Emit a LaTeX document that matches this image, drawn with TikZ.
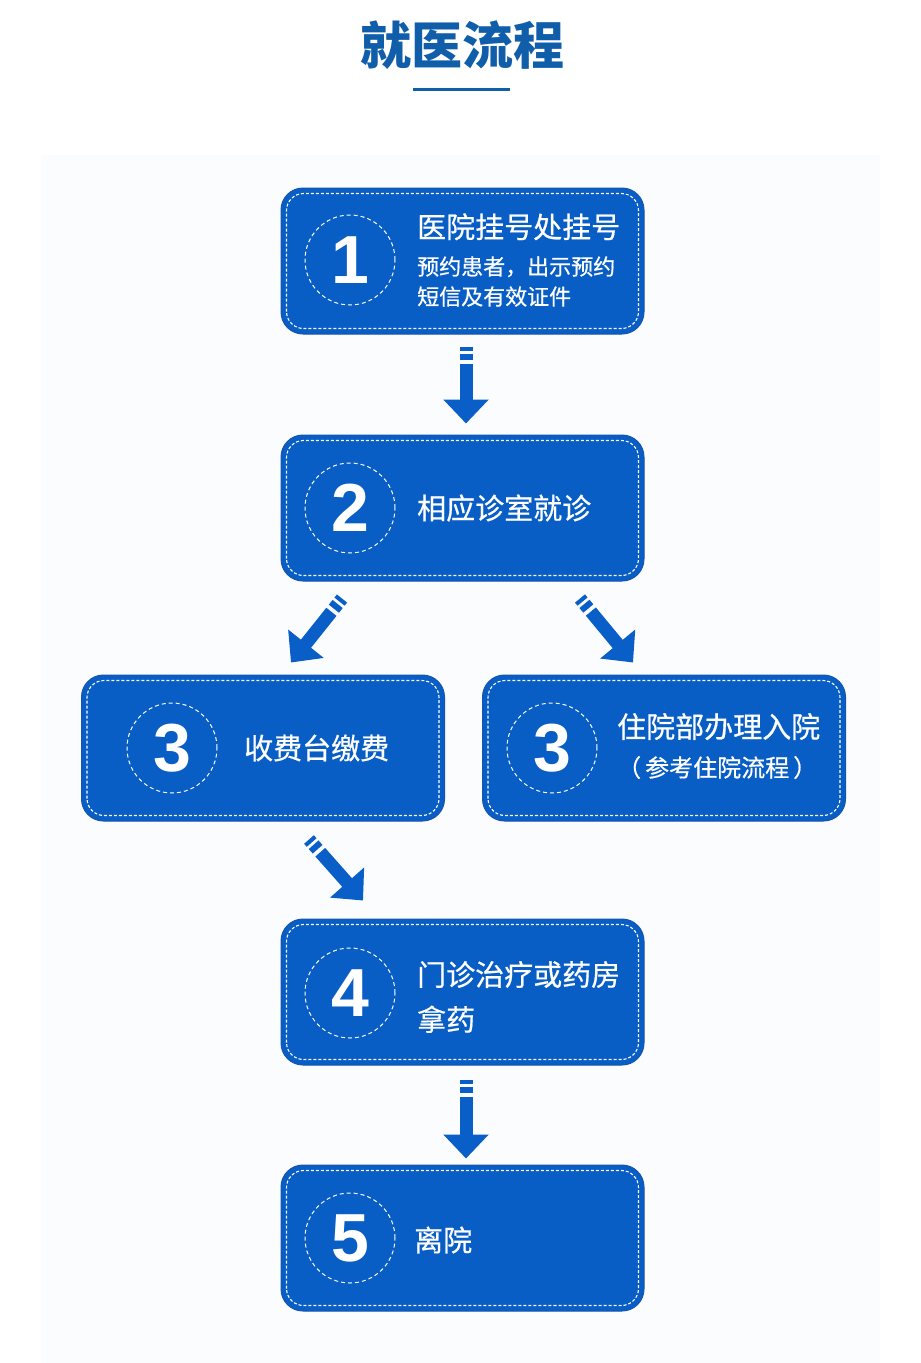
\documentclass[tikz,border=0pt]{standalone}
\usepackage{fontspec}
\usepackage{xcolor}
\usepackage{tikz}
\usetikzlibrary{arrows.meta}
\usetikzlibrary{positioning}
\newfontfamily\cjk{Noto Sans CJK SC}
\newfontfamily\cjkmed[FakeBold=0.6]{Noto Sans CJK SC}
\newfontfamily\digits{Liberation Sans}
\definecolor{titleblue}{RGB}{16,94,170}
\definecolor{boxblue}{RGB}{8,94,196}
\definecolor{edgeblue}{RGB}{22,84,176}
\definecolor{arrowblue}{RGB}{10,94,200}
\definecolor{panel}{RGB}{251,252,253}

\begin{document}
\begin{tikzpicture}[x=1pt,y=-1pt]
        \tikzstyle{stepbox}=[fill=boxblue,draw=edgeblue,line width=1pt,rounded corners=22pt,
          minimum width=363pt,minimum height=146pt,inner sep=0pt]
        \tikzstyle{stitch}=[draw=white,line width=1.1pt,rounded corners=17pt,dash pattern=on 3pt off 2pt]
        \tikzstyle{ring}=[circle,draw=white,line width=1pt,dash pattern=on 4pt off 3pt,
          minimum size=90pt,inner sep=0pt,text=white,font=\digits\bfseries\fontsize{68}{68}\selectfont]
        \tikzstyle{steptext}=[anchor=west,align=left,inner sep=0pt,text=white,
          font=\cjkmed\fontsize{22}{30}\selectfont]
        \tikzstyle{flow}=[draw=arrowblue,line width=13pt,
          dash pattern=on 4pt off 3pt on 6pt off 4pt on 400pt,-{Triangle[length=24pt,width=44pt]}]

        \useasboundingbox (0,0) rectangle (921,1363);
        \fill[white] (0,0) rectangle (921,1363);
        \fill[panel] (41,155) rectangle (880,1363);

        % title
        \node[font=\cjk\bfseries\fontsize{51}{51}\selectfont,text=titleblue] (title) at (462,45) {就医流程};
        \draw[titleblue,line width=3pt] (413,89) -- (510,89);

        % steps
        \node[stepbox] (b1) at (462.5,261) {};
        \node[stepbox] (b2) at (462.5,508) {};
        \node[stepbox] (b3l) at (263,748) {};
        \node[stepbox] (b3r) at (664,748) {};
        \node[stepbox] (b4) at (462.5,992) {};
        \node[stepbox] (b5) at (462.5,1238) {};
        \foreach \b in {b1,b2,b3l,b3r,b4,b5}
          \draw[stitch] ([shift={(6pt,6pt)}]\b.south west) rectangle ([shift={(-6pt,-6pt)}]\b.north east);

        \node[ring] (n1) at (350,260) {1};
        \node[ring] (n2) at (350,508) {2};
        \node[ring] (n3l) at (172,748) {3};
        \node[ring] (n3r) at (552,748) {3};
        \node[ring] (n4) at (350,993) {4};
        \node[ring] (n5) at (350,1238) {5};

        \node[steptext] (t1) at (417,260) {{\fontsize{29}{36}\selectfont 医院挂号处挂号}\\[7pt]预约患者，出示预约\\短信及有效证件};
        \node[steptext,font=\cjkmed\fontsize{29}{36}\selectfont] (t2) at (417,508) {相应诊室就诊};
        \node[steptext,font=\cjkmed\fontsize{29}{36}\selectfont] (t3l) at (244,748) {收费台缴费};
        \node[steptext] (t3r) at (617,746) {{\fontsize{29}{36}\selectfont 住院部办理入院}\\[9pt]{\fontsize{24}{30}\selectfont （\hspace{4pt}参考住院流程\hspace{4pt}）}};
        \node[steptext,font=\cjkmed\fontsize{29}{45}\selectfont] (t4) at (417,997) {门诊治疗或药房\\拿药};
        \node[steptext,font=\cjkmed\fontsize{29}{36}\selectfont] (t5) at (414,1240) {离院};

        % arrows
        \draw[flow] ([shift={(3.5pt,-12pt)}]b1.south) -- ([shift={(3.5pt,11pt)}]b2.north);
        \draw[flow] ([shift={(-120.5pt,-17pt)}]b2.south) -- ([shift={(28pt,12pt)}]b3l.north);
        \draw[flow] ([shift={(117.5pt,-17pt)}]b2.south) -- ([shift={(-31pt,12pt)}]b3r.north);
        \draw[flow] ([shift={(46pt,-18pt)}]b3l.south) -- ([shift={(-99.5pt,18pt)}]b4.north);
        \draw[flow] ([shift={(3.5pt,-14pt)}]b4.south) -- ([shift={(3.5pt,6pt)}]b5.north);
      \end{tikzpicture}
\end{document}
